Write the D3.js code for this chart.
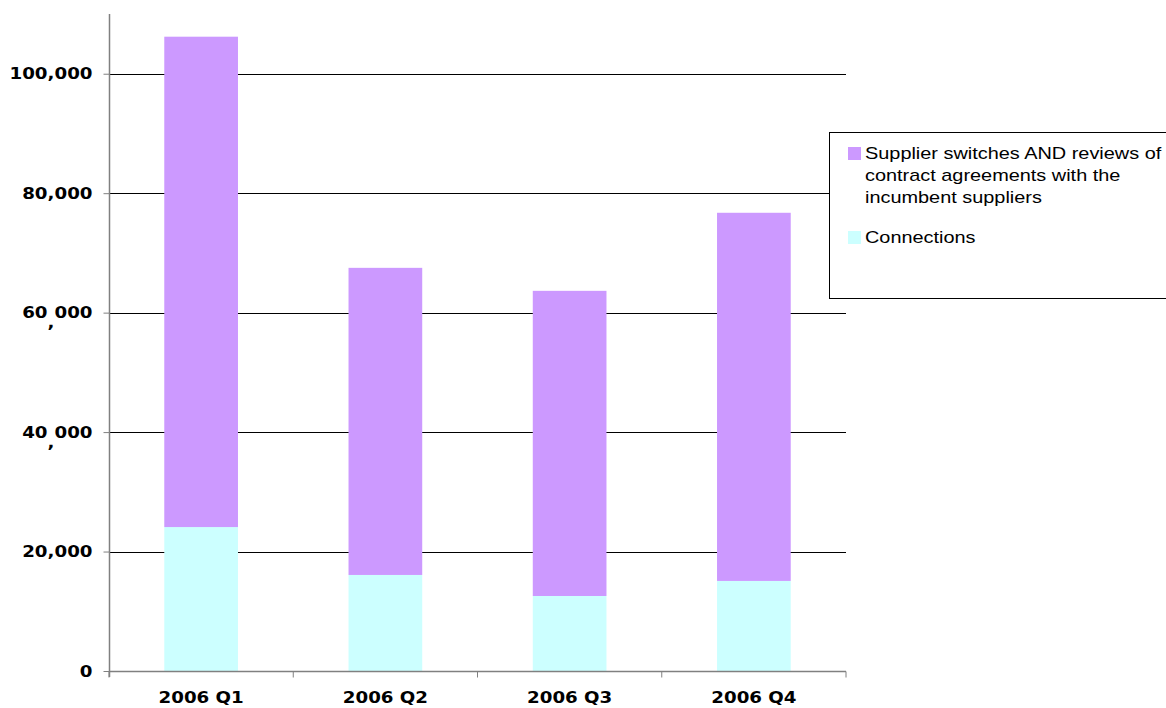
<!DOCTYPE html>
<html>
<head>
<meta charset="utf-8">
<script src="https://cdn.jsdelivr.net/npm/d3@7"></script>
<style>
  body { margin: 0; background: #fff; }
  svg { display: block; }
  .axis text { font-family: "DejaVu Sans", Verdana, sans-serif; font-weight: bold; font-size: 16px; fill: #000; }
  .legend text { font-family: "Liberation Sans", Arial, sans-serif; font-size: 17px; fill: #000; }
</style>
</head>
<body>
<div id="chart"></div>
<script>
const quarters = ['2006 Q1', '2006 Q2', '2006 Q3', '2006 Q4'];
const connections = [24100, 16080, 12560, 15080];
const switches = [82100, 51420, 51090, 61640];
const yTicks = [0, 20000, 40000, 60000, 80000, 100000];
const seriesNames = {
  switches: ['Supplier switches AND reviews of', 'contract agreements with the', 'incumbent suppliers'],
  connections: ['Connections']
};

const width = 1166;
const height = 708;
const margin = { top: 14, bottom: 37, left: 109 };
const plotRight = 846;
const stretch = 1.14;   // the original glyphs are drawn wider than the installed fonts

const rows = quarters.map((q, i) => ({ quarter: q, connections: connections[i], switches: switches[i] }));
const stacked = d3.stack().keys(['connections', 'switches'])(rows);
const colors = { connections: '#CCFFFF', switches: '#CC99FF' };

const svg = d3.select('#chart').append('svg')
  .attr('width', width)
  .attr('height', height);

const x = d3.scaleBand()
  .domain(quarters)
  .range([margin.left, plotRight])
  .paddingInner(0.6)
  .paddingOuter(0.3);

const y = d3.scaleLinear()
  .domain([0, 110000])
  .range([height - margin.bottom, margin.top]);

// gridlines
svg.append('g')
  .selectAll('line')
  .data(yTicks.filter(d => d > 0))
  .join('line')
  .attr('x1', margin.left)
  .attr('x2', plotRight)
  .attr('y1', d => Math.round(y(d)) + 0.5)
  .attr('y2', d => Math.round(y(d)) + 0.5)
  .attr('stroke', '#000');

// bars
svg.append('g')
  .selectAll('g')
  .data(stacked)
  .join('g')
  .attr('fill', d => colors[d.key])
  .selectAll('rect')
  .data(d => d)
  .join('rect')
  .attr('x', d => x(d.data.quarter))
  .attr('width', x.bandwidth())
  .attr('y', d => y(d[1]))
  .attr('height', d => y(d[0]) - y(d[1]));

// y axis
const yAxis = svg.append('g')
  .attr('class', 'axis')
  .attr('transform', `translate(${margin.left + 0.5},0)`)
  .call(d3.axisLeft(y).tickValues(yTicks).tickSize(6).tickPadding(10)
    .tickFormat(d3.format(',')));
yAxis.select('.domain').attr('stroke', '#808080').attr('stroke-width', 1.5)
  .attr('d', `M0,${y(110000)}V${y(0) + 6}`);
yAxis.selectAll('.tick line').attr('stroke', '#808080');
yAxis.selectAll('.tick text')
  .attr('x', 0)
  .attr('transform', `translate(-17,0) scale(${stretch},1)`)
  .each(function (d) {
    // the 40,000 and 60,000 labels have their comma dropped below the line
    if (d === 40000 || d === 60000) {
      const t = d3.select(this);
      const s = d3.format(',')(d).split(',');
      t.text(s[0]);
      t.append('tspan').attr('dy', 10).text(',');
      t.append('tspan').attr('dy', -10).text(s[1]);
    }
  });

// x axis
const xAxis = svg.append('g')
  .attr('class', 'axis')
  .attr('transform', `translate(0,${Math.round(y(0)) + 0.5})`)
  .call(d3.axisBottom(x).tickSize(0).tickPadding(20));
xAxis.select('.domain').attr('stroke', '#808080').attr('stroke-width', 1.5)
  .attr('d', `M${margin.left},0H${plotRight}`);
xAxis.selectAll('.tick text')
  .attr('transform', `scale(${stretch},1)`)
  .attr('x', 0);
// category separator ticks
xAxis.selectAll('.sep')
  .data(d3.range(quarters.length + 1))
  .join('line')
  .attr('class', 'sep')
  .attr('x1', i => margin.left + i * (plotRight - margin.left) / quarters.length)
  .attr('x2', i => margin.left + i * (plotRight - margin.left) / quarters.length)
  .attr('y1', 0)
  .attr('y2', 6)
  .attr('stroke', '#808080');

// legend
const legend = svg.append('g').attr('class', 'legend');
legend.append('rect')
  .attr('x', 829.5).attr('y', 132.5)
  .attr('width', 345).attr('height', 166)
  .attr('fill', '#fff')
  .attr('stroke', '#000');
const items = [
  { key: 'switches', y: 147 },
  { key: 'connections', y: 231 }
];
items.forEach(it => {
  legend.append('rect')
    .attr('x', 848).attr('y', it.y)
    .attr('width', 13).attr('height', 13)
    .attr('fill', colors[it.key]);
  const t = legend.append('text')
    .attr('transform', `translate(865,${it.y + 12}) scale(1.17,1)`);
  seriesNames[it.key].forEach((l, j) => {
    t.append('tspan').attr('x', 0).attr('dy', j === 0 ? 0 : 22).text(l);
  });
});
</script>
</body>
</html>
